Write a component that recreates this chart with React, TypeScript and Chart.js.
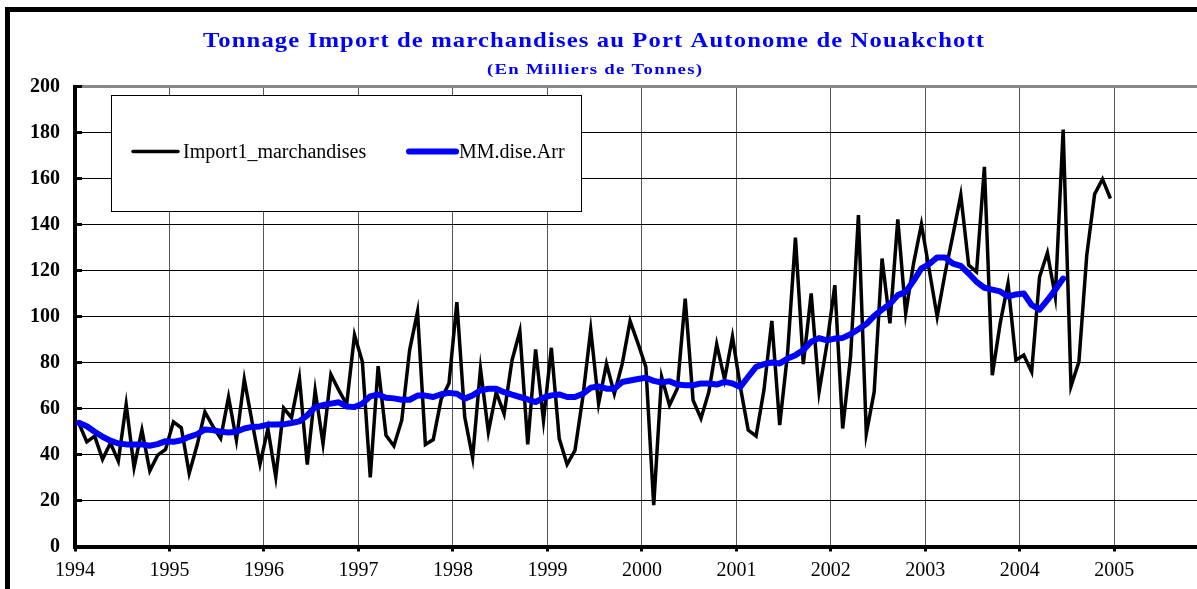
import React, { useEffect, useRef } from "react";
import { Chart, registerables } from "chart.js";

Chart.register(...registerables);

// ---- Data (monthly, thousands of tonnes) ----
const START_YEAR = 1994;
const yearTicks = [1994, 1995, 1996, 1997, 1998, 1999, 2000, 2001, 2002, 2003, 2004, 2005];
const yTickStep = 20;

const importLabel = "Import1_marchandises";
const movingAvgLabel = "MM.dise.Arr";

const importValues = [
  // 1994
  53.5, 45.5, 48, 37.9, 45, 37.1, 61.8, 34.4, 50.6, 32.9, 39.7, 42.2,
  // 1995
  54.2, 51.6, 31.8, 44, 58.5, 52.3, 47, 65, 46.2, 72.7, 54, 35.8,
  // 1996
  51.2, 30.2, 60.2, 56, 73.4, 35.6, 67.9, 44.7, 74.8, 68, 61.8, 91.9,
  // 1997
  80.3, 30, 78.4, 48.3, 43.7, 54.9, 85.4, 102, 44.4, 46.5, 64, 71,
  // 1998
  106.2, 56.3, 38.6, 77.3, 49.8, 67.1, 57.7, 80.9, 93.6, 44.4, 85.7, 54.8,
  // 1999
  86.4, 46.9, 35.7, 41.8, 65, 94.2, 62.1, 79.4, 66.4, 79.4, 98, 88.3,
  // 2000
  78.1, 18, 73.8, 61.4, 68.7, 107.8, 63.6, 55.7, 67.2, 88, 72.6, 91.2,
  // 2001
  69.4, 50.6, 48, 68, 98.1, 52.8, 83.9, 134.3, 79.3, 110, 67.2, 88,
  // 2002
  113.6, 51.3, 82.5, 144.1, 49.1, 67.2, 125.2, 97, 142.2, 101.3, 123, 140.1,
  // 2003
  120.1, 99.9, 118.7, 135.4, 152.8, 122.3, 119.4, 165.1, 74.5, 97, 114.3, 81,
  // 2004
  83.2, 75.9, 117.2, 127.7, 108.6, 181.3, 69.7, 80.3, 126.7, 153.2, 159.7, 151.3,
];

const movingAvgValues = [
  // 1994
  53.8, 52.3, 49.9, 47.7, 46, 44.8, 44.4, 44.4, 44.4, 43.8, 44.5, 45.8,
  // 1995
  45.5, 46.2, 47.7, 48.8, 50.9, 50.6, 49.9, 49.6, 49.9, 51.3, 52, 52.2,
  // 1996
  53, 53, 53.1, 53.7, 54.4, 57, 60.6, 61.5, 62.1, 62.7, 60.9, 60.6,
  // 1997
  62.1, 65.3, 66.1, 64.7, 64.4, 63.8, 63.8, 65.6, 65.6, 65, 66.2, 66.8,
  // 1998
  66.4, 64.3, 65.7, 67.9, 68.6, 68.6, 67.1, 66, 65, 64, 62.8, 64.7,
  // 1999
  65.7, 66.1, 65, 65, 66.4, 69, 69.6, 68.6, 68.6, 71.5, 72.2, 72.8,
  // 2000
  73.4, 72, 71.3, 71.9, 70.4, 70.1, 70.1, 70.9, 70.9, 70.4, 71.6, 70.9,
  // 2001
  69.4, 73.8, 78.1, 79.3, 80, 79.6, 81.7, 83.2, 85.4, 89, 90.6, 89.6,
  // 2002
  90.4, 90.7, 92.3, 94.5, 96.7, 100.3, 103, 105.4, 109.3, 110.7, 115.5, 120.9,
  // 2003
  122.8, 125.7, 125.7, 123, 122, 118.7, 115.1, 112.5, 111.7, 110.9, 108.7, 109.6,
  // 2004 (Jan-Jun)
  110, 105, 103, 107.1, 111.7, 116.5,
];

const toPoints = (vals: number[]) =>
  vals.map((v, i) => ({ x: START_YEAR + (i + 0.5) / 12, y: v }));

const SERIF = '"Liberation Serif", "Times New Roman", serif';

// Draws text stretched horizontally to span a given width (Excel-like wide rendering)
function fitText(ctx: CanvasRenderingContext2D, text: string, font: string, left: number, baseline: number, width: number, spacing: number) {
  ctx.save();
  ctx.font = font;
  (ctx as any).letterSpacing = spacing + "px";
  const w = ctx.measureText(text).width - spacing;
  const sx = width / w;
  ctx.translate(left, baseline);
  ctx.scale(sx, 1);
  ctx.textAlign = "left";
  ctx.textBaseline = "alphabetic";
  ctx.fillText(text, 0, 0);
  ctx.restore();
}

const decorPlugin = {
  id: "decor",
  beforeDraw(chart: any) {
    const ctx = chart.ctx;
    ctx.save();
    ctx.strokeStyle = "#000";
    ctx.lineWidth = 5;
    ctx.strokeRect(7.5, 9.5, 1400, 800);
    ctx.restore();
  },
  afterDraw(chart: any) {
    const ctx = chart.ctx;
    // titles
    ctx.save();
    ctx.fillStyle = "#0000FF";
    fitText(ctx, "Tonnage Import de marchandises au Port Autonome de Nouakchott", `bold 22px ${SERIF}`, 203, 47, 781, 1);
    fitText(ctx, "(En Milliers de Tonnes)", `bold 15px ${SERIF}`, 487, 74, 215, 1);
    ctx.restore();

    // y axis inner tick marks
    const ys = chart.scales.y;
    const area = chart.chartArea;
    ctx.save();
    ctx.strokeStyle = "#000";
    ctx.lineWidth = 3;
    ys.ticks.forEach((t: any) => {
      const py = ys.getPixelForValue(t.value);
      ctx.beginPath();
      ctx.moveTo(area.left, py);
      ctx.lineTo(area.left + 7, py);
      ctx.stroke();
    });
    ctx.restore();

    // legend box
    const ds = chart.data.datasets;
    ctx.save();
    ctx.fillStyle = "#fff";
    ctx.fillRect(111, 95, 470, 116);
    ctx.strokeStyle = "#000";
    ctx.lineWidth = 1;
    ctx.strokeRect(111.5, 95.5, 470, 116);
    const items = [
      { d: ds[0], x0: 133, x1: 178, tx: 183 },
      { d: ds[1], x0: 409, x1: 456, tx: 459 },
    ];
    items.forEach((it) => {
      ctx.strokeStyle = it.d.borderColor;
      ctx.lineWidth = it.d.borderWidth;
      ctx.lineCap = "round";
      ctx.beginPath();
      ctx.moveTo(it.x0, 151.5);
      ctx.lineTo(it.x1, 151.5);
      ctx.stroke();
      ctx.fillStyle = "#000";
      ctx.font = `20px ${SERIF}`;
      ctx.textAlign = "left";
      ctx.textBaseline = "alphabetic";
      ctx.fillText(it.d.label, it.tx, 158);
    });
    ctx.restore();
  },
};

export default function App() {
  const ref = useRef<HTMLCanvasElement | null>(null);

  useEffect(() => {
    if (!ref.current) return;
    const chart = new Chart(ref.current, {
      type: "line",
      data: {
        datasets: [
          {
            label: importLabel,
            data: toPoints(importValues),
            borderColor: "#000000",
            borderWidth: 3.5,
            pointRadius: 0,
            tension: 0,
            order: 2,
          },
          {
            label: movingAvgLabel,
            data: toPoints(movingAvgValues),
            borderColor: "#0000FF",
            borderWidth: 6,
            pointRadius: 0,
            tension: 0,
            borderCapStyle: "round",
            borderJoinStyle: "round",
            order: 1,
          },
        ],
      },
      options: {
        responsive: false,
        animation: false,
        devicePixelRatio: 1,
        layout: { padding: { top: 86.5, left: 0, right: 0, bottom: 0 } },
        plugins: {
          legend: { display: false },
          title: { display: false },
          tooltip: { enabled: false },
        },
        scales: {
          x: {
            type: "linear",
            min: 1994,
            max: 2005.875,
            afterBuildTicks: (scale: any) => {
              scale.ticks = yearTicks.map((v) => ({ value: v }));
            },
            afterFit: (scale: any) => {
              scale.height = 42.5;
            },
            ticks: {
              autoSkip: false,
              maxRotation: 0,
              padding: 7,
              color: "#000",
              font: { family: SERIF, size: 20 },
              callback: (v: any) => String(v),
            },
            grid: {
              color: "#555",
              lineWidth: 1,
              tickLength: 5,
              tickWidth: 3,
              tickColor: "#000",
            },
            border: { color: "#000", width: 4 },
          },
          y: {
            min: 0,
            max: 200,
            afterFit: (scale: any) => {
              scale.width = 75;
            },
            ticks: {
              stepSize: yTickStep,
              padding: 15,
              color: "#000",
              font: { family: SERIF, size: 20, weight: "bold" },
            },
            grid: {
              drawTicks: false,
              color: (c: any) => (c.tick && c.tick.value === 200 ? "#888" : "#000"),
              lineWidth: (c: any) => (c.tick && c.tick.value === 200 ? 3 : 1),
            },
            border: { color: "#000", width: 4 },
          },
        },
      },
      plugins: [decorPlugin],
    });
    return () => chart.destroy();
  }, []);

  return (
    <div style={{ position: "fixed", left: 0, top: 0, width: 1197, height: 589, background: "#fff" }}>
      <canvas ref={ref} width={1197} height={589} style={{ display: "block" }} />
    </div>
  );
}
